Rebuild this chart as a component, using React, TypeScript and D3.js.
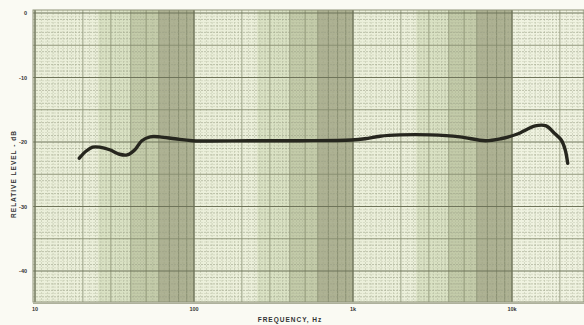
import React from "react";
import * as d3 from "d3";

const freqs = [19, 21, 23, 25.5, 29.5, 34, 38, 42.5, 47, 53, 61, 76, 98, 225, 465, 980, 1190, 1480, 1980, 3050, 4700, 6800, 8500, 10700, 14000, 16400, 18400, 20400, 21600, 22400];
const levels = [-22.5, -21.4, -20.8, -20.8, -21.2, -21.9, -22.0, -21.2, -19.8, -19.2, -19.2, -19.5, -19.8, -19.8, -19.8, -19.7, -19.5, -19.1, -18.9, -18.9, -19.2, -19.8, -19.5, -18.8, -17.5, -17.5, -18.6, -19.7, -21.2, -23.3];

const yTicks = [0, -10, -20, -30, -40];
const yTickLabels = ["0", "-10", "-20", "-30", "-40"];
const xTicks = [10, 100, 1000, 10000];
const xTickLabels = ["10", "100", "1k", "10k"];
const decades = [10, 100, 1000];
const bandStarts = [1, 2.5, 4, 6];
const bandEnds = [2.5, 4, 6, 10];
const bandFills = ["#ebefda", "#d9e1c3", "#c3cba9", "#adb192"];

const W = 584, H = 325;
const left = 33, top = 10, bottom = 302, right = 584;

export default function App() {
  const x = d3.scaleLog().domain([10, 10 ** (1 + (right - 35) / 159)]).range([35, right]);
  const y = d3.scaleLinear().domain([0, -45]).range([13, 13 + 45 * 6.45]);

  const vMinor: number[] = [];
  const vMajor: number[] = [];
  [10, 100, 1000, 10000].forEach((d) => {
    for (let m = 1; m < 10; m += m < 2 ? 0.1 : m < 5 ? 0.2 : 0.5) {
      const f = d * m;
      if (x(f) > right) break;
      const mr = Math.round(m * 10) / 10;
      if (Math.abs(mr - Math.round(mr)) < 1e-6) vMajor.push(f);
      else vMinor.push(f);
    }
  });
  const hLines: number[] = [];
  for (let v = 0; v >= -45; v -= 0.5) hLines.push(v);

  const line = d3
    .line<number>()
    .x((_, i) => x(freqs[i]))
    .y((d) => y(d))
    .curve(d3.curveCatmullRom.alpha(0.5));

  return (
    <svg width={W} height={H} style={{ position: "absolute", left: 0, top: 0, background: "#fafaf3" }}>
      <rect x={left} y={top} width={right - left} height={bottom - top} fill="#eff2e0" />
      {decades.map((d) =>
        bandStarts.map((b, i) => (
          <rect key={`${d}-${i}`} x={x(d * b)} y={top} width={x(d * bandEnds[i]) - x(d * b)} height={bottom - top} fill={bandFills[i]} />
        ))
      )}
      {vMinor.map((f, i) => (
        <line key={"vm" + i} x1={x(f)} x2={x(f)} y1={top} y2={bottom} stroke="#9ea488" strokeWidth={0.6} strokeDasharray="2,1" opacity={0.6} />
      ))}
      {vMajor.map((f, i) => (
        <line key={"vM" + i} x1={x(f)} x2={x(f)} y1={top} y2={bottom} stroke="#7d8366" strokeWidth={0.9} opacity={0.8} />
      ))}
      {hLines.map((v) => {
        const major = v % 10 === 0;
        const mid = !major && v % 5 === 0;
        const whole = Number.isInteger(v);
        return (
          <line
            key={"h" + v}
            x1={left}
            x2={right}
            y1={y(v)}
            y2={y(v)}
            stroke={major ? "#6f745a" : mid ? "#888d72" : whole ? "#9ba086" : "#b4b9a0"}
            strokeWidth={major ? 1.2 : mid ? 0.9 : 0.6}
            strokeDasharray={major || mid ? undefined : "2,1"}
            opacity={whole ? 1 : 0.6}
          />
        );
      })}
      {xTicks.map((f) => (
        <line key={"dx" + f} x1={x(f)} x2={x(f)} y1={top} y2={bottom} stroke="#6f745a" strokeWidth={1.2} />
      ))}
      <rect x={left} y={top} width={right - left} height={bottom - top} fill="none" stroke="#8d9278" strokeWidth={1} />
      <path d={line(levels) || ""} fill="none" stroke="#26261e" strokeWidth={3.4} strokeLinecap="round" strokeLinejoin="round" />
      {yTicks.map((v, i) => (
        <text key={"yt" + v} x={27} y={y(v) + 2} textAnchor="end" fontFamily="Liberation Sans, Arial, sans-serif" fontSize={5.5} fontWeight="bold" fill="#333">
          {yTickLabels[i]}
        </text>
      ))}
      {xTicks.map((f, i) => (
        <text key={"xt" + f} x={x(f)} y={311} textAnchor="middle" fontFamily="Liberation Sans, Arial, sans-serif" fontSize={5.5} fontWeight="bold" fill="#333">
          {xTickLabels[i]}
        </text>
      ))}
      <text x={290} y={322} textAnchor="middle" fontFamily="Liberation Sans, Arial, sans-serif" fontSize={6.5} fontWeight="bold" letterSpacing={1} fill="#333">
        FREQUENCY, Hz
      </text>
      <text transform="translate(16,174) rotate(-90)" textAnchor="middle" fontFamily="Liberation Sans, Arial, sans-serif" fontSize={6.5} fontWeight="bold" letterSpacing={1} fill="#333">
        RELATIVE LEVEL - dB
      </text>
    </svg>
  );
}
